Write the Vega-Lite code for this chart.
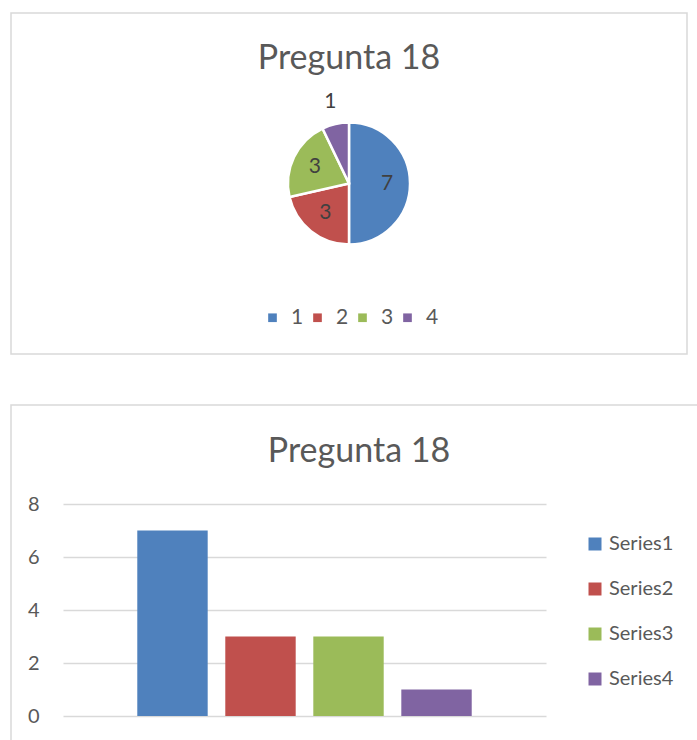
{
  "$schema": "https://vega.github.io/schema/vega-lite/v6.json",
  "background": "white",
  "padding": {"left": 10, "top": 12, "right": 0, "bottom": 0},
  "autosize": {"type": "pad"},
  "config": {
    "font": "Lato",
    "view": {"stroke": "#d9d9d9", "strokeWidth": 1.5}
  },
  "spacing": 49,
  "resolve": {"scale": {"color": "independent"}, "legend": {"color": "independent"}},
  "vconcat": [
    {
      "width": 676,
      "height": 341,
      "view": {"stroke": "#d9d9d9", "strokeWidth": 1.5},
      "data": {"values": [
        {"cat": "1", "value": 7},
        {"cat": "2", "value": 3},
        {"cat": "3", "value": 3},
        {"cat": "4", "value": 1}
      ]},
      "title": {"text": "Pregunta 18", "fontSize": 34, "fontWeight": "normal", "color": "#595959", "offset": -63, "anchor": "middle", "frame": "group"},
      "encoding": {
        "theta": {"field": "value", "type": "quantitative", "stack": true},
        "order": {"field": "cat", "type": "ordinal"}
      },
      "layer": [
        {"mark": {"type": "arc", "outerRadius": 61, "stroke": "white", "strokeWidth": 2.5},
          "encoding": {
            "color": {
              "field": "cat", "type": "nominal",
              "scale": {"domain": ["1", "2", "3", "4"], "range": ["#4f81bd", "#c0504d", "#9bbb59", "#8064a2"]},
              "legend": {"orient": "none", "legendX": 251, "legendY": 294, "direction": "horizontal", "title": null,
                "symbolType": "square", "symbolSize": 75, "symbolStrokeWidth": 0, "labelFontSize": 21, "labelColor": "#595959",
                "labelOffset": 8, "columnPadding": 3}
            }
          }},
        {"mark": {"type": "text", "radius": 38, "fontSize": 21, "color": "#404040"},
          "encoding": {"text": {"condition": {"test": "datum.value > 1", "field": "value", "type": "quantitative"}, "value": ""}}},
        {"mark": {"type": "text", "radius": 84, "fontSize": 21, "color": "#404040"},
          "encoding": {"text": {"condition": {"test": "datum.value <= 1", "field": "value", "type": "quantitative"}, "value": ""}}}
      ]
    },
    {
      "width": 696,
      "height": 345,
      "data": {"values": [
        {"series": "Series1", "value": 7},
        {"series": "Series2", "value": 3},
        {"series": "Series3", "value": 3},
        {"series": "Series4", "value": 1}
      ]},
      "title": {"text": "Pregunta 18", "fontSize": 34, "fontWeight": "normal", "color": "#595959", "offset": -64, "anchor": "middle", "frame": "group"},
      "mark": {"type": "bar"},
      "encoding": {
        "x": {"field": "series", "type": "nominal", "axis": null,
          "scale": {"range": [52, 535], "paddingInner": 0.2, "paddingOuter": 0.844}},
        "y": {"field": "value", "type": "quantitative",
          "scale": {"domain": [0, 8], "range": [311, 99]},
          "axis": {"title": null, "values": [0, 2, 4, 6, 8], "offset": -30, "domain": false, "ticks": false,
            "labelPadding": 2, "labelFontSize": 20, "labelColor": "#595959",
            "grid": true, "gridColor": "#d9d9d9", "gridWidth": 1.5}},
        "color": {
          "field": "series", "type": "nominal",
          "scale": {"domain": ["Series1", "Series2", "Series3", "Series4"], "range": ["#4f81bd", "#c0504d", "#9bbb59", "#8064a2"]},
          "legend": {"orient": "none", "legendX": 574, "legendY": 129, "direction": "vertical", "title": null,
            "symbolType": "square", "symbolSize": 169, "symbolStrokeWidth": 0, "labelFontSize": 20, "labelColor": "#595959",
            "labelOffset": 4, "rowPadding": 25}
        }
      }
    }
  ]
}
